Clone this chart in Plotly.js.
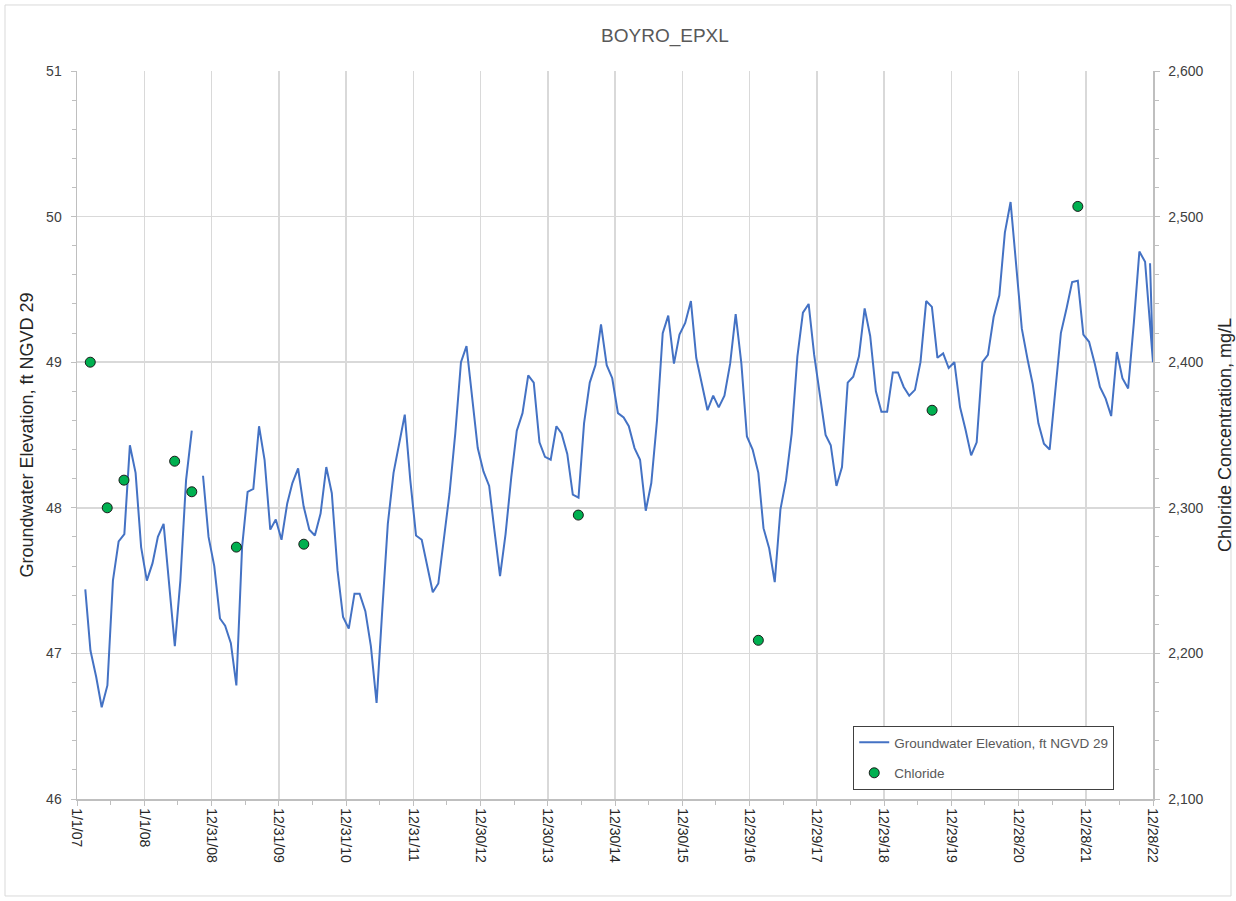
<!DOCTYPE html>
<html>
<head>
<meta charset="utf-8">
<script src="https://cdn.plot.ly/plotly-3.0.1.min.js"></script>
<style>html,body{margin:0;padding:0;background:#fff;}#chart{width:1236px;height:901px;}</style>
</head>
<body>
<div id="chart"></div>
<script>
// Groundwater elevation (ft NGVD 29), monthly readings Jan..Dec of each year (null = no reading)
const gw2007 = [null, 47.44, 47.02, 46.84, 46.63, 46.78, 47.50, 47.77, 47.82, 48.43, 48.24, 47.73];
const gw2008 = [47.50, 47.62, 47.80, 47.89, 47.50, 47.05, 47.50, 48.19, 48.53, null, 48.22, 47.80];
const gw2009 = [47.60, 47.24, 47.19, 47.07, 46.78, 47.73, 48.11, 48.13, 48.56, 48.33, 47.85, 47.92];
const gw2010 = [47.78, 48.03, 48.17, 48.27, 48.01, 47.85, 47.81, 47.96, 48.28, 48.10, 47.57, 47.25];
const gw2011 = [47.17, 47.41, 47.41, 47.29, 47.05, 46.66, 47.28, 47.89, 48.24, 48.44, 48.64, 48.19];
const gw2012 = [47.81, 47.78, 47.60, 47.42, 47.48, 47.78, 48.10, 48.51, 49.00, 49.11, 48.76, 48.41];
const gw2013 = [48.25, 48.15, 47.85, 47.53, 47.82, 48.21, 48.53, 48.65, 48.91, 48.86, 48.45, 48.35];
const gw2014 = [48.33, 48.56, 48.51, 48.37, 48.09, 48.07, 48.58, 48.86, 48.98, 49.26, 48.98, 48.89];
const gw2015 = [48.65, 48.62, 48.56, 48.41, 48.33, 47.98, 48.17, 48.60, 49.20, 49.32, 48.99, 49.19];
const gw2016 = [49.27, 49.42, 49.03, 48.84, 48.67, 48.77, 48.69, 48.77, 48.99, 49.33, 48.99, 48.49];
const gw2017 = [48.40, 48.24, 47.86, 47.72, 47.49, 47.99, 48.19, 48.51, 49.04, 49.34, 49.40, 49.05];
const gw2018 = [48.76, 48.50, 48.43, 48.15, 48.28, 48.86, 48.90, 49.04, 49.37, 49.18, 48.80, 48.66];
const gw2019 = [48.66, 48.93, 48.93, 48.83, 48.77, 48.81, 49.00, 49.42, 49.38, 49.03, 49.06, 48.96];
const gw2020 = [49.00, 48.69, 48.54, 48.36, 48.45, 49.00, 49.05, 49.31, 49.46, 49.89, 50.10, 49.66];
const gw2021 = [49.23, 49.02, 48.85, 48.58, 48.44, 48.40, 48.79, 49.20, 49.37, 49.55, 49.56, 49.19];
const gw2022 = [49.14, 48.99, 48.83, 48.75, 48.63, 49.07, 48.89, 48.82, 49.27, 49.76, 49.69];
// last readings at the end of 2022 (recorded out of date order)
const gwTailDates = ['2022-12-28', '2022-12-12', '2022-12-28'];
const gwTailValues = [49.00, 49.68, 49.00];

// Chloride concentration (mg/L)
const clDates = ['2007-03-14', '2007-06-14', '2007-09-13', '2008-06-14', '2008-09-15', '2009-05-15',
                 '2010-05-16', '2014-06-14', '2017-02-15', '2019-09-16', '2021-11-15'];
const clValues = [2400, 2300, 2319, 2332, 2311, 2273, 2275, 2295, 2209, 2367, 2507];

// X axis tick labels (365-day steps)
const xTickVals = ['2007-01-01', '2008-01-01', '2008-12-31', '2009-12-31', '2010-12-31', '2011-12-31',
  '2012-12-30', '2013-12-30', '2014-12-30', '2015-12-30', '2016-12-29', '2017-12-29', '2018-12-29',
  '2019-12-29', '2020-12-28', '2021-12-28', '2022-12-28'];
const xTickText = ['1/1/07', '1/1/08', '12/31/08', '12/31/09', '12/31/10', '12/31/11', '12/30/12',
  '12/30/13', '12/30/14', '12/30/15', '12/29/16', '12/29/17', '12/29/18', '12/29/19', '12/28/20',
  '12/28/21', '12/28/22'];

const gwYears = [gw2007, gw2008, gw2009, gw2010, gw2011, gw2012, gw2013, gw2014, gw2015, gw2016,
                 gw2017, gw2018, gw2019, gw2020, gw2021, gw2022];
const gwX = [], gwY = [];
gwYears.forEach((arr, i) => {
  const yr = 2007 + i;
  arr.forEach((v, m) => {
    const mm = String(m + 1).padStart(2, '0');
    gwX.push(yr + '-' + mm + '-15');
    gwY.push(v);
  });
});
gwTailDates.forEach((d, i) => { gwX.push(d); gwY.push(gwTailValues[i]); });

const FONT = '"Liberation Sans", Arial, sans-serif';
const GRID = '#d9d9d9';
const AXIS = '#bfbfbf';
const TXT = '#404040';
const DAY = 86400000;

const traces = [
  {
    x: gwX, y: gwY, type: 'scatter', mode: 'lines',
    name: 'Groundwater Elevation, ft NGVD 29',
    line: {color: '#4472C4', width: 2},
    connectgaps: false, legendgroup: 'a'
  },
  {
    x: clDates, y: clValues, type: 'scatter', mode: 'markers', yaxis: 'y2',
    name: 'Chloride',
    marker: {color: '#00B050', size: 10, line: {color: '#1a1a1a', width: 1}},
    legendgroup: 'b'
  }
];

const layout = {
  width: 1236, height: 901,
  margin: {l: 77, r: 83, t: 71, b: 102},
  paper_bgcolor: '#ffffff', plot_bgcolor: '#ffffff',
  font: {family: FONT, color: TXT, size: 13},
  title: {text: 'BOYRO_EPXL', x: 0.538, xanchor: 'center', y: 0.961, yanchor: 'middle',
          font: {family: FONT, size: 19, color: '#595959'}},
  showlegend: true,
  legend: {
    x: 0.7214, y: 0.1003, xanchor: 'left', yanchor: 'top',
    bgcolor: '#ffffff', bordercolor: '#404040', borderwidth: 1,
    font: {family: FONT, size: 13.5, color: '#595959'},
    traceorder: 'grouped', tracegroupgap: 10
  },
  xaxis: {
    type: 'date',
    range: ['2007-01-01', '2022-12-28'],
    tickmode: 'array', tickvals: xTickVals, ticktext: xTickText,
    tickangle: 90,
    ticks: 'outside', ticklen: 5, tickcolor: AXIS,
    showgrid: true, gridcolor: GRID, gridwidth: 1.5,
    showline: true, linecolor: AXIS, linewidth: 1.5,
    zeroline: false,
    tickfont: {family: FONT, size: 14, color: '#262626'},
    minor: {ticks: 'outside', ticklen: 4, tickcolor: AXIS, dtick: 182.5 * DAY, tick0: '2007-01-01', showgrid: false}
  },
  yaxis: {
    range: [46, 51], dtick: 1, tick0: 46,
    ticks: 'outside', ticklen: 5, tickcolor: AXIS,
    showgrid: true, gridcolor: GRID, gridwidth: 1.5,
    showline: true, linecolor: AXIS, linewidth: 1.5,
    zeroline: false,
    ticklabelstandoff: 6,
    tickfont: {family: FONT, size: 14, color: TXT},
    title: {text: 'Groundwater Elevation, ft NGVD 29', font: {family: FONT, size: 18, color: '#262626'}, standoff: 8},
    minor: {ticks: 'outside', ticklen: 4, tickcolor: AXIS, dtick: 0.2, showgrid: false}
  },
  yaxis2: {
    overlaying: 'y', side: 'right',
    range: [2100, 2600], dtick: 100, tick0: 2100,
    tickformat: ',d',
    ticks: 'outside', ticklen: 5, tickcolor: AXIS,
    showgrid: false,
    showline: true, linecolor: AXIS, linewidth: 1.5,
    zeroline: false,
    ticklabelstandoff: 6,
    tickfont: {family: FONT, size: 14, color: TXT},
    title: {text: 'Chloride Concentration, mg/L', font: {family: FONT, size: 18, color: '#262626'}, standoff: 16},
    minor: {ticks: 'outside', ticklen: 4, tickcolor: AXIS, dtick: 20, showgrid: false}
  },
  shapes: [{
    type: 'rect', xref: 'paper', yref: 'paper',
    x0: -0.0669, x1: 1.0725, y0: -0.1332, y1: 1.0907,
    line: {color: '#d9d9d9', width: 1}, fillcolor: 'rgba(0,0,0,0)', layer: 'below'
  }]
};

Plotly.newPlot('chart', traces, layout, {displayModeBar: false, staticPlot: true});
</script>
</body>
</html>
